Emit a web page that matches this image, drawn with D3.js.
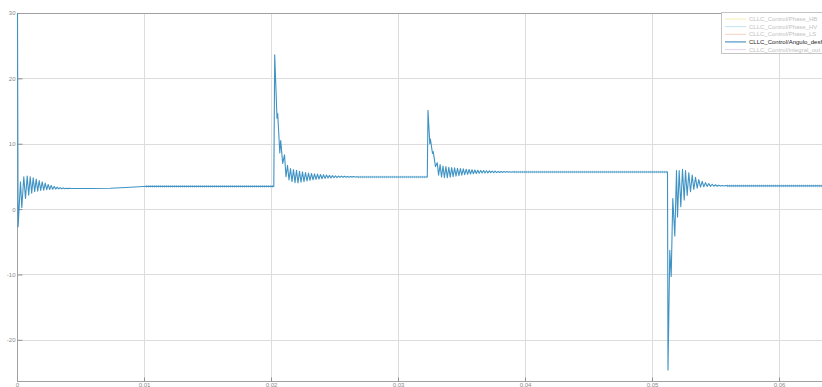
<!DOCTYPE html>
<html><head><meta charset="utf-8">
<script src="https://cdn.jsdelivr.net/npm/d3@7"></script>
<style>
html,body{margin:0;padding:0;background:#fff;overflow:hidden}
svg{display:block;font-family:"Liberation Sans",Arial,sans-serif}
</style></head><body>
<svg id="c" width="822" height="387"></svg>
<script>
// ---- data (time in s, value) ----
const xTicks = [0, 0.01, 0.02, 0.03, 0.04, 0.05, 0.06];
const xTickLabels = ["0", "0.01", "0.02", "0.03", "0.04", "0.05", "0.06"];
const yTicks = [-20, -10, 0, 10, 20, 30];
const yTickLabels = ["-20", "-10", "0", "10", "20", "30"];

const legendNames = ["CLLC_Control/Phase_HB", "CLLC_Control/Phase_HV", "CLLC_Control/Phase_LS",
  "CLLC_Control/Angulo_desfase", "CLLC_Control/integral_out"];
const legendColors = ["#f6efb4", "#bfe6f2", "#f6cfc0", "#2f7fb5", "#e6d2f2"];
const legendActive = [false, false, false, true, false];

const startup = [
  [0, 30], [0.000047, -2.7], [0.000236, 4.18], [0.000339, 0.2], [0.000496, 4.94], [0.000630, 1.63],
  [0.000764, 5.05], [0.000882, 2.14], [0.001000, 4.94], [0.001118, 2.45], [0.001236, 4.79],
  [0.001354, 2.65], [0.001472, 4.59], [0.001591, 2.75], [0.001709, 4.38], [0.001827, 2.85],
  [0.001945, 4.18], [0.002063, 2.9], [0.002181, 3.98], [0.002299, 2.96], [0.002417, 3.77],
  [0.002535, 3.0], [0.002654, 3.62], [0.002772, 3.03], [0.002890, 3.47], [0.003008, 3.06],
  [0.003126, 3.36], [0.003244, 3.08], [0.003362, 3.28], [0.003480, 3.1], [0.003598, 3.24],
  [0.003717, 3.12], [0.003835, 3.2], [0.003953, 3.13], [0.004071, 3.18], [0.004252, 3.15],
  [0.005748, 3.15], [0.007323, 3.18], [0.008504, 3.3], [0.009921, 3.45], [0.010157, 3.48],
  [0.020181, 3.48]
];
const step1 = [
  [0.020252, 23.6], [0.020433, 13.9], [0.020488, 14.6], [0.020654, 8.6], [0.020724, 10.5],
  [0.020882, 7.0], [0.021024, 8.3], [0.021142, 4.95], [0.021260, 6.7], [0.021378, 4.45],
  [0.021496, 6.2], [0.021614, 4.2], [0.021732, 6.05], [0.021850, 4.05], [0.021969, 5.95],
  [0.022087, 4.0], [0.022205, 5.8], [0.022323, 4.1], [0.022441, 5.7], [0.022559, 4.2],
  [0.022677, 5.6], [0.022795, 4.3], [0.022913, 5.5], [0.023031, 4.4], [0.023150, 5.45],
  [0.023268, 4.48], [0.023386, 5.4], [0.023504, 4.55], [0.023622, 5.35], [0.023740, 4.6],
  [0.023858, 5.3], [0.023976, 4.65], [0.024094, 5.25], [0.024213, 4.7], [0.024331, 5.2],
  [0.024449, 4.74], [0.024567, 5.16], [0.024685, 4.77], [0.024803, 5.12], [0.024921, 4.8],
  [0.025039, 5.09], [0.025157, 4.82], [0.025276, 5.06], [0.025394, 4.84], [0.025512, 5.04],
  [0.025630, 4.86], [0.025748, 5.02], [0.025866, 4.87], [0.025984, 5.0], [0.026102, 4.88],
  [0.026220, 4.99], [0.026339, 4.89], [0.026457, 4.98], [0.026575, 4.9], [0.026693, 4.96],
  [0.026850, 4.92], [0.032268, 4.92]
];
const step2 = [
  [0.032323, 15.1], [0.032465, 10.0], [0.032512, 10.7], [0.032677, 8.5], [0.032732, 8.8],
  [0.032913, 6.5], [0.033047, 7.1], [0.033157, 5.2], [0.033276, 6.8], [0.033386, 4.9],
  [0.033504, 6.6], [0.033614, 4.8], [0.033732, 6.5], [0.033843, 4.8], [0.033961, 6.4],
  [0.034071, 4.88], [0.034189, 6.35], [0.034299, 4.96], [0.034417, 6.3], [0.034528, 5.05],
  [0.034646, 6.25], [0.034756, 5.12], [0.034874, 6.2], [0.034984, 5.2], [0.035102, 6.15],
  [0.035213, 5.26], [0.035331, 6.1], [0.035441, 5.32], [0.035559, 6.06], [0.035669, 5.37],
  [0.035787, 6.02], [0.035898, 5.41], [0.036016, 5.98], [0.036126, 5.45], [0.036244, 5.95],
  [0.036354, 5.48], [0.036472, 5.92], [0.036583, 5.51], [0.036701, 5.89], [0.036811, 5.53],
  [0.036929, 5.86], [0.037039, 5.55], [0.037157, 5.84], [0.037268, 5.57], [0.037386, 5.82],
  [0.037496, 5.58], [0.037614, 5.8], [0.037724, 5.59], [0.037843, 5.78], [0.037953, 5.6],
  [0.038071, 5.76], [0.038181, 5.61], [0.038299, 5.75], [0.038409, 5.62], [0.038528, 5.74],
  [0.038638, 5.63], [0.038756, 5.73], [0.038866, 5.64], [0.038984, 5.72], [0.039134, 5.67],
  [0.051181, 5.67]
];
const step3 = [
  [0.051220, -24.6], [0.051362, -6.3], [0.051472, -10.3], [0.051598, 1.6], [0.051756, -4.1],
  [0.051890, 5.9], [0.051969, -1.2], [0.052102, 5.9], [0.052228, 0.35], [0.052362, 6.07],
  [0.052496, 1.4], [0.052598, 5.9], [0.052732, 2.1], [0.052858, 5.55], [0.052992, 2.65],
  [0.053126, 5.2], [0.053252, 3.0], [0.053386, 4.85], [0.053520, 3.2], [0.053646, 4.5],
  [0.053780, 3.35], [0.053913, 4.25], [0.054039, 3.42], [0.054173, 4.05], [0.054307, 3.46],
  [0.054433, 3.9], [0.054567, 3.48], [0.054701, 3.8], [0.054827, 3.5], [0.054961, 3.72],
  [0.055094, 3.5], [0.055220, 3.66], [0.055354, 3.52], [0.055488, 3.62], [0.055614, 3.53],
  [0.055748, 3.6], [0.055906, 3.55], [0.0634, 3.55]
];
// steady sections with small switching ripple: [tStart, tEnd, level]
const rippleSections = [
  [0.010157, 0.020181, 3.48], [0.02685, 0.032268, 4.92],
  [0.039134, 0.051181, 5.67], [0.055906, 0.0634, 3.55]
];

const signal = startup.concat(step1, step2, step3);

// ---- layout ----
const W = 822, H = 387;
const L = 17, T = 13, B = 381;
const x = d3.scaleLinear().domain([0, 0.0634]).range([L, L + 0.0634 * 12700]);
const y = d3.scaleLinear().domain([-26.3, 30]).range([B, T]);

const svg = d3.select("#c");
const gridColor = "#dcdcdc", axisColor = "#a0a0a0", tickText = "#8a8a8a";

// grid
svg.append("g").selectAll("line").data(xTicks.slice(1)).join("line")
  .attr("x1", d => Math.round(x(d)) + 0.5).attr("x2", d => Math.round(x(d)) + 0.5)
  .attr("y1", T).attr("y2", B).attr("stroke", gridColor).attr("stroke-width", 1);
svg.append("g").selectAll("line").data(yTicks.slice(0, -1)).join("line")
  .attr("y1", d => Math.round(y(d)) + 0.5).attr("y2", d => Math.round(y(d)) + 0.5)
  .attr("x1", L).attr("x2", W).attr("stroke", gridColor).attr("stroke-width", 1);

// axes
const xAxis = d3.axisBottom(x).tickValues(xTicks).tickSize(-4).tickPadding(0)
  .tickFormat((d, i) => xTickLabels[i]);
const gx = svg.append("g").attr("transform", `translate(0,${B + 0.5})`).call(xAxis);
gx.select(".domain").attr("stroke", axisColor).attr("d", `M${L},0H${W}`);
gx.selectAll(".tick line").attr("stroke", "#909090");
gx.selectAll("text").attr("fill", tickText).attr("font-size", 6)
  .attr("y", 5.3).attr("dy", null);

const yAxis = d3.axisLeft(y).tickValues(yTicks).tickSize(-5).tickPadding(2)
  .tickFormat((d, i) => yTickLabels[i]);
const gy = svg.append("g").attr("transform", `translate(${L + 0.5},0)`).call(yAxis);
gy.select(".domain").attr("stroke", axisColor).attr("d", `M0,${T}V${B}`);
gy.selectAll(".tick line").attr("stroke", "#909090");
gy.selectAll("text").attr("fill", tickText).attr("font-size", 6);

// top border
svg.append("line").attr("x1", L).attr("x2", W).attr("y1", T + 0.5).attr("y2", T + 0.5)
  .attr("stroke", axisColor);

// clip
svg.append("clipPath").attr("id", "pc").append("rect")
  .attr("x", L - 1).attr("y", T).attr("width", W - L + 1).attr("height", B - T);

const lineColor = "#3f93c4";
const plot = svg.append("g").attr("clip-path", "url(#pc)");
plot.selectAll("line.rip").data(rippleSections).join("line").attr("class", "rip")
  .attr("x1", d => x(d[0])).attr("x2", d => x(d[1]))
  .attr("y1", d => y(d[2])).attr("y2", d => y(d[2]))
  .attr("stroke", lineColor).attr("stroke-width", 2.6).attr("stroke-opacity", 0.4)
  .attr("stroke-dasharray", "1 1");
plot.append("path").datum(signal)
  .attr("d", d3.line().x(d => x(d[0]) + 0.5).y(d => y(d[1])))
  .attr("fill", "none").attr("stroke", lineColor).attr("stroke-width", 1.1)
  .attr("stroke-linejoin", "round");

// legend
const lg = svg.append("g");
lg.append("rect").attr("x", 721.5).attr("y", 12.5).attr("width", 104).attr("height", 41)
  .attr("fill", "#fff").attr("stroke", "#c4c4c4");
const rowY = d3.scalePoint().domain(d3.range(legendNames.length)).range([19, 49.6]);
legendNames.forEach((n, i) => {
  lg.append("line").attr("x1", 725).attr("x2", 746).attr("y1", rowY(i)).attr("y2", rowY(i))
    .attr("stroke", legendColors[i]).attr("stroke-width", 1);
  lg.append("text").attr("x", 749).attr("y", rowY(i)).attr("dy", "0.35em")
    .attr("font-size", 6).attr("fill", legendActive[i] ? "#222" : "#c2c2c2").text(n);
});
</script></body></html>
